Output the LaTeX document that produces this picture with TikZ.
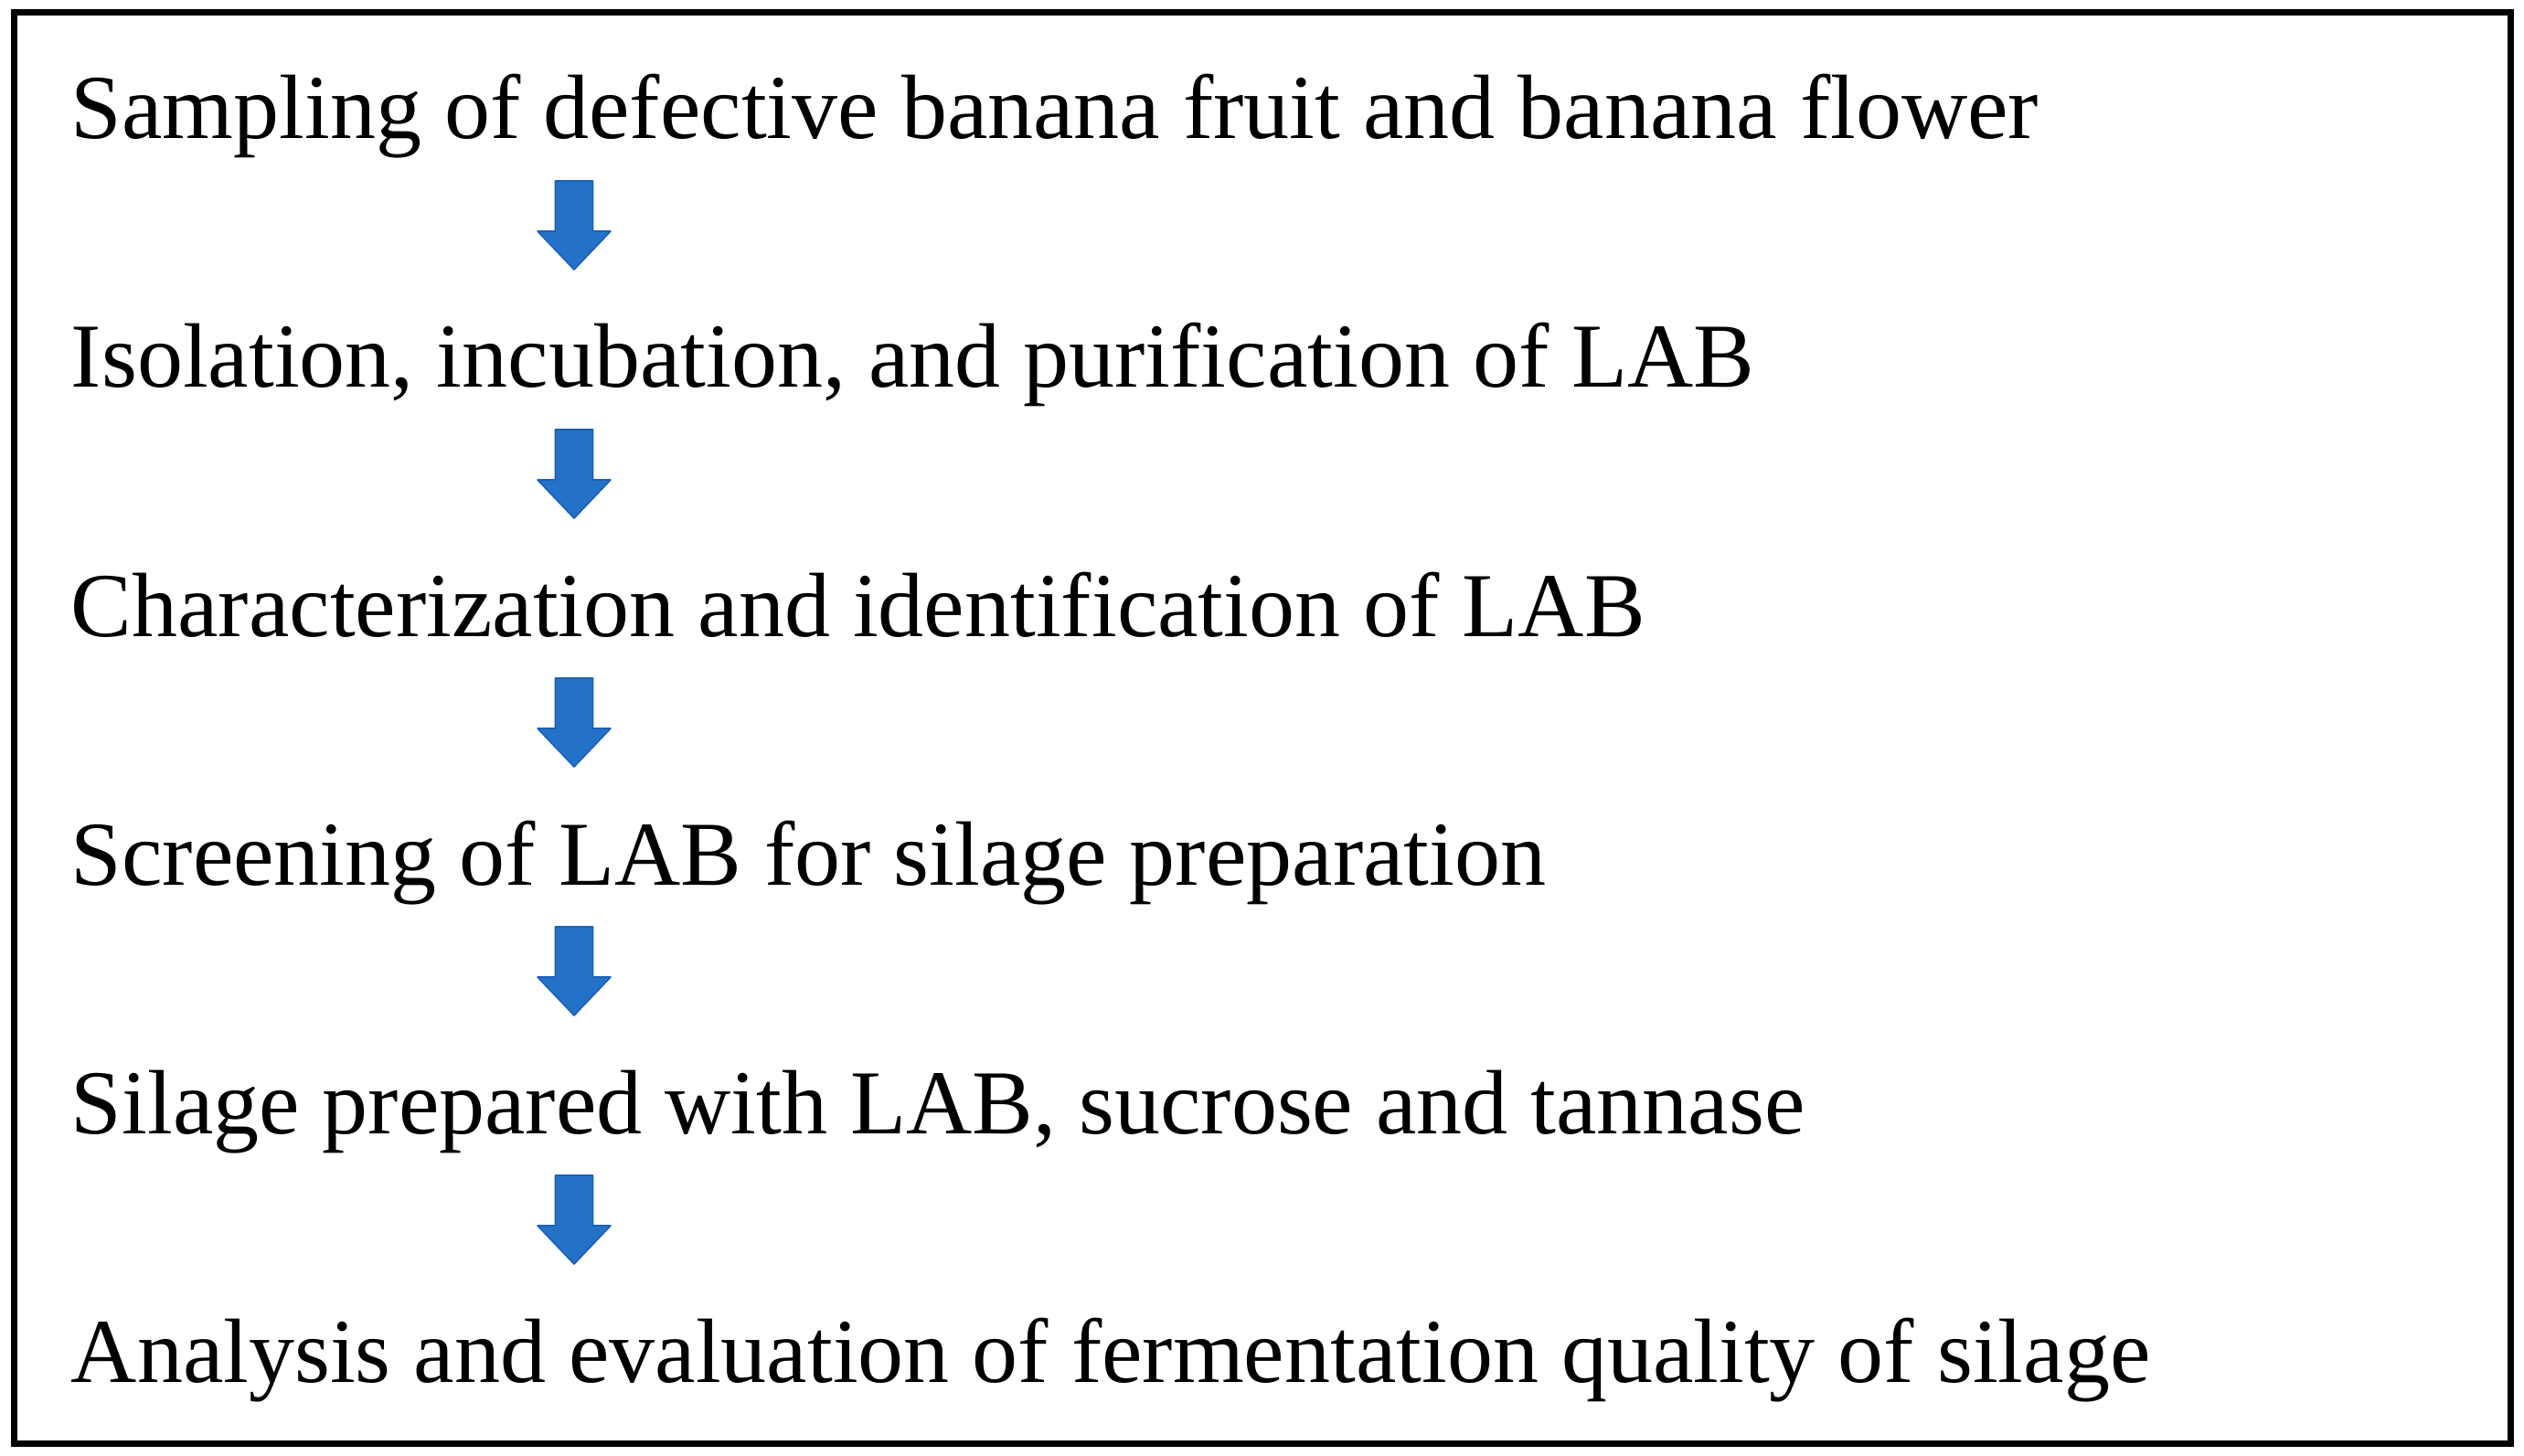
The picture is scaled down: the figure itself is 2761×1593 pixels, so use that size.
\documentclass[tikz,border=0pt]{standalone}
\usepackage{fontspec}
\setmainfont{Liberation Serif}
\definecolor{arrowblue}{RGB}{36,114,200}
\definecolor{arrowedge}{RGB}{26,96,182}
\begin{document}
\begin{tikzpicture}[x=0.25pt,y=-0.25pt]
        % Styles
        \tikzstyle{step text}=[anchor=base west,inner sep=0pt,font=\fontsize{25}{30}\selectfont]
        \tikzstyle{block arrow}=[fill=arrowblue,draw=arrowedge,line width=0.4pt,line join=round]
        \tikzstyle{frame}=[line width=1.75pt]
        %The graphic
        \useasboundingbox (0,0) rectangle (2761,1593);
        \draw[style=frame] (15,13.5) rectangle (2746.5,1579);
        %steps
        \foreach \i/\txt in {1/{Sampling of defective banana fruit and banana flower},
                             2/{Isolation, incubation, and purification of LAB},
                             3/{Characterization and identification of LAB},
                             4/{Screening of LAB for silage preparation},
                             5/{Silage prepared with LAB, sucrose and tannase},
                             6/{Analysis and evaluation of fermentation quality of silage}}
            \node[step text] (s\i) at (77,{152+272*(\i-1)}) {\txt};
        %arrows
        \foreach \i in {1,...,5}
            \draw[style=block arrow] ([shift={(551,46)}]s\i.base west) coordinate (a\i)
                -- ++(20.5,0) -- ++(0,55) -- ++(19.5,0) -- ++(-40,42)
                -- ++(-40,-42) -- ++(19.5,0) -- ++(0,-55) -- cycle;
    \end{tikzpicture}
\end{document}
